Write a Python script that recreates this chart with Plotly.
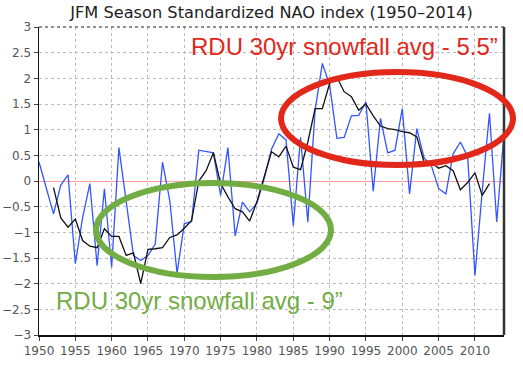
import plotly.graph_objects as go

years = list(range(1950, 2015))
nao_jfm = [0.37, -0.13, -0.64, -0.08, 0.12, -1.61, -0.72, -0.05, -1.65, -0.15,
           -1.68, 0.65, -0.45, -1.45, -1.55, -1.45, -1.23, 0.37, -0.38, -1.80,
           -0.83, -0.79, 0.60, 0.57, 0.55, -0.28, 0.65, -1.07, -0.41, -0.60,
           -0.43, 0.05, 0.62, 0.92, 0.80, -0.87, 0.85, -0.80, 1.38, 2.29,
           1.87, 0.83, 0.85, 1.27, 1.28, 1.54, -0.20, 1.22, 0.55, 0.60,
           1.41, -0.25, 1.02, 0.45, 0.30, -0.15, -0.25, 0.53, 0.76, 0.48,
           -1.84, -0.20, 1.32, -0.80, 0.92]

smooth_years = list(range(1952, 2013))
nao_smooth = [-0.13, -0.72, -0.90, -0.74, -1.16, -1.27, -1.30, -0.93, -1.08, -1.08,
              -1.45, -1.40, -2.00, -1.33, -1.32, -1.30, -1.10, -1.05, -0.92, -0.77,
              0.00, 0.20, 0.55, -0.05, -0.31, -0.54, -0.60, -0.78, -0.40, 0.08,
              0.57, 0.47, 0.68, 0.27, 0.22, 0.76, 1.41, 1.41, 1.90, 2.02,
              1.74, 1.64, 1.38, 1.50, 1.27, 1.07, 1.02, 1.00, 0.96, 0.94,
              0.86, 0.37, 0.36, 0.25, 0.30, 0.20, -0.17, -0.03, 0.16, -0.28,
              -0.05]

title_text = "JFM Season Standardized NAO index (1950\u20132014)"
red_note = "RDU 30yr snowfall avg - 5.5\u201d"
green_note = "RDU 30yr snowfall avg - 9\u201d"

W, H = 523, 365
L, R, T, B = 39, 19, 27, 30
PW, PH = W - L - R, H - T - B


def px(x):
    return (x - L) / PW


def py(y):
    return (H - B - y) / PH


fig = go.Figure()
fig.add_trace(go.Scatter(x=years, y=nao_jfm, mode="lines",
                         line=dict(color="#3355ff", width=1.3), showlegend=False))
fig.add_trace(go.Scatter(x=smooth_years, y=nao_smooth, mode="lines",
                         line=dict(color="#111111", width=1.3), showlegend=False))

shapes = [
    dict(type="line", xref="paper", yref="paper", x0=0, x1=1, y0=1, y1=1,
         line=dict(color="#222", width=1, dash="dot")),
    dict(type="line", xref="paper", yref="paper", x0=1, x1=1, y0=0, y1=1,
         line=dict(color="#333", width=2.5)),
    dict(type="circle", xref="paper", yref="paper", layer="above",
         x0=px(281), x1=px(513), y0=py(165), y1=py(72),
         line=dict(color="#e2271b", width=6)),
    dict(type="circle", xref="paper", yref="paper", layer="above",
         x0=px(96), x1=px(331), y0=py(277), y1=py(183),
         line=dict(color="#72ad43", width=6)),
]

annotations = [
    dict(text=red_note, xref="paper", yref="paper", x=px(189), y=py(46),
         xanchor="left", yanchor="middle", showarrow=False,
         font=dict(family="Liberation Sans, Arial", size=24, color="#e2271b")),
    dict(text=green_note, xref="paper", yref="paper", x=px(54), y=py(300),
         xanchor="left", yanchor="middle", showarrow=False,
         font=dict(family="Liberation Sans, Arial", size=24, color="#72ad43")),
]

fig.update_layout(
    width=W, height=H,
    margin=dict(l=L, r=R, t=T, b=B, autoexpand=False),
    paper_bgcolor="white", plot_bgcolor="white",
    hovermode=False,
    title=dict(text=title_text, x=0.5, xref="paper", xanchor="center",
               y=1 - 12 / H, yref="container", yanchor="middle",
               font=dict(family="DejaVu Sans", size=16.2, color="#222")),
    shapes=shapes, annotations=annotations,
    xaxis=dict(range=[1950, 2014], tick0=1950, dtick=5, showgrid=True,
               automargin=False,
               gridcolor="#bbbbbb", griddash="dot", gridwidth=1,
               showline=True, linecolor="#111", linewidth=1.5,
               ticks="outside", ticklen=4, tickcolor="#444",
               tickfont=dict(family="DejaVu Sans", size=12, color="#555"),
               zeroline=False),
    yaxis=dict(range=[-3, 3], tick0=0, dtick=0.5, showgrid=True,
               automargin=False,
               gridcolor="#bbbbbb", griddash="dot", gridwidth=1,
               showline=True, linecolor="#111", linewidth=1.5,
               ticks="outside", ticklen=4, tickcolor="#444",
               tickfont=dict(family="DejaVu Sans", size=12, color="#555"),
               zeroline=True, zerolinecolor="#ff9c9c", zerolinewidth=1),
)

fig.write_html("out.html",
               config={"displayModeBar": False, "staticPlot": True},
               post_script="document.body.style.margin='0';document.body.style.overflow='hidden';")
